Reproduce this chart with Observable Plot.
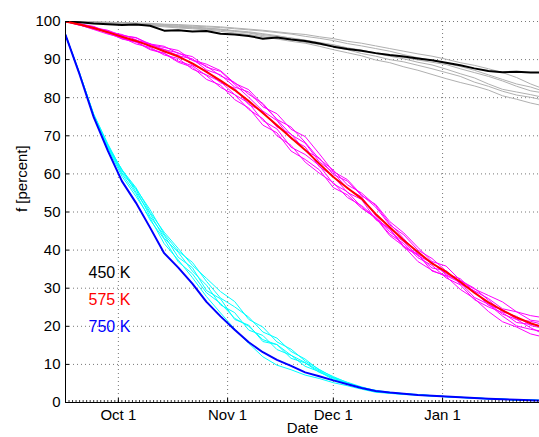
<!DOCTYPE html>
<html><head><meta charset="utf-8">
<script src="https://cdn.jsdelivr.net/npm/d3@7"></script>
<script src="https://cdn.jsdelivr.net/npm/@observablehq/plot@0.6"></script>
<style>body{margin:0;background:#fff;}</style>
</head><body><div id="chart"></div>
<script>
const dates = ["2006-09-16","2006-09-20","2006-09-24","2006-09-28","2006-10-02","2006-10-06","2006-10-10","2006-10-14","2006-10-18","2006-10-22","2006-10-26","2006-10-30","2006-11-03","2006-11-07","2006-11-11","2006-11-15","2006-11-19","2006-11-23","2006-11-27","2006-12-01","2006-12-05","2006-12-09","2006-12-13","2006-12-17","2006-12-21","2006-12-25","2006-12-29","2007-01-02","2007-01-06","2007-01-10","2007-01-14","2007-01-18","2007-01-22","2007-01-26","2007-01-30"];

const mean450 = [100,99.8,99.5,99.3,99.1,99.2,98.9,97.6,97.7,97.4,97.5,96.8,96.6,96.2,95.5,95.8,95.3,94.9,94.2,93.4,92.8,92.3,91.7,91.2,90.8,90.3,89.8,89.2,88.5,87.7,87.0,86.7,86.8,86.6,86.6];
const mean575 = [100,99.2,98.3,97.2,96.0,94.9,93.6,92.2,90.8,89.0,86.8,84.5,82.0,79.1,76.0,72.8,69.5,66.3,62.7,59.2,56.3,53.5,49.5,46.0,42.5,39.5,36.5,34.3,31.7,28.8,26.3,24.2,22.3,20.8,19.6];
const mean750 = [96.5,86.1,74.9,66.1,58.1,52.4,45.9,39.2,35.4,31.2,26.4,22.6,19.1,15.8,13.2,11.2,9.6,7.9,6.9,5.8,4.8,3.8,3.0,2.6,2.3,2.0,1.8,1.55,1.35,1.2,1.0,0.85,0.7,0.6,0.5];

const members450 = [
 [100,99.9,99.9,99.8,99.7,99.6,99.5,99.3,99.2,99.0,98.8,98.6,98.3,98.0,97.7,97.3,96.9,96.6,96.0,95.5,94.8,94.3,93.6,92.9,92.2,91.5,90.9,90.1,89.2,88.5,87.6,86.6,85.3,83.6,82.2],
 [100,99.8,99.7,99.5,99.3,99.1,98.9,98.6,98.3,98.1,97.8,97.4,97.0,96.6,96.0,95.4,94.8,94.3,93.5,92.6,91.8,91.0,89.9,89.2,88.1,87.2,86.1,85.0,84.0,83.1,82.0,80.5,79.6,78.6,77.8],
 [100,99.9,99.8,99.6,99.5,99.3,99.2,98.9,98.7,98.4,98.2,97.9,97.6,97.3,96.8,96.3,95.6,95.1,94.5,93.9,93.1,92.5,91.6,90.9,90.2,89.3,88.6,87.5,86.3,85.2,83.6,82.2,81.5,80.8,80.0],
 [100,99.9,99.8,99.7,99.6,99.4,99.2,99.0,98.8,98.6,98.3,98.0,97.5,97.1,96.6,96.1,95.7,95.1,94.4,93.8,93.0,92.4,91.8,91.1,90.6,89.9,89.3,88.7,87.6,86.6,85.6,84.4,83.0,81.8,81.2],
 [100,99.8,99.7,99.6,99.5,99.3,99.1,98.8,98.5,98.3,98.0,97.7,97.4,97.0,96.3,95.9,95.3,94.5,94.0,93.4,92.6,91.6,90.9,90.0,89.4,88.5,87.6,86.6,85.6,84.1,83.0,81.7,80.7,80.1,79.3],
 [100,99.9,99.9,99.8,99.7,99.5,99.4,99.2,99.0,98.8,98.6,98.4,98.1,97.8,97.5,97.1,96.7,96.1,95.6,95.0,94.2,93.6,92.9,92.2,91.3,90.5,89.8,89.0,88.2,87.2,86.0,84.8,83.6,82.8,81.6]
];
const members575 = [
 [100,99.3,98.1,97.5,96.2,94.6,94.1,92.6,91.8,89.8,88.3,85.7,84.0,80.9,78.5,74.3,72.3,68.3,63.9,61.0,57.1,55.0,51.7,47.0,43.0,39.0,36.8,33.5,31.9,29.8,28.1,26.4,23.8,22.8,22.2],
 [100,99.0,98.5,96.9,95.5,94.7,92.8,91.7,89.6,88.4,85.8,82.7,80.8,76.9,74.5,70.0,67.5,63.1,60.2,57.7,53.8,51.7,48.5,43.8,41.0,37.0,34.7,33.1,29.7,27.3,23.9,21.2,19.8,18.0,17.1],
 [100,99.4,98.7,97.3,96.6,95.2,93.4,92.7,91.0,90.2,87.3,86.0,82.8,81.5,77.6,75.8,71.7,69.8,65.3,60.6,58.5,54.5,51.3,46.6,44.0,40.0,37.8,34.5,31.2,29.3,25.5,24.4,21.8,21.3,20.4],
 [100,99.1,97.9,96.7,95.8,94.1,93.2,91.2,90.3,87.5,86.0,84.2,80.8,78.6,74.0,71.8,67.0,65.1,62.2,57.4,55.3,51.3,48.3,45.6,41.0,38.9,34.5,33.3,31.5,27.6,25.8,22.7,20.1,19.2,18.6],
 [100,99.2,98.6,97.0,96.4,95.7,93.9,93.2,92.4,89.9,88.8,87.1,83.8,82.1,78.2,74.3,70.3,68.1,63.2,60.4,56.1,54.0,49.0,44.8,42.2,38.5,36.7,33.8,32.5,29.0,26.0,23.2,21.8,19.6,17.8],
 [100,99.3,98.3,97.6,95.7,95.1,94.2,92.0,91.2,88.6,87.1,83.9,82.5,78.2,76.4,72.3,70.5,66.1,64.2,59.8,58.1,54.3,52.0,47.5,44.5,40.7,37.0,35.8,32.1,30.0,26.9,23.8,22.6,20.2,19.4],
 [100,99.1,98.0,97.3,95.4,94.6,92.6,91.6,89.3,88.0,84.8,83.3,79.5,77.3,72.8,70.8,66.0,63.8,61.1,56.4,54.5,51.0,48.5,44.2,41.7,38.0,36.0,32.7,30.9,27.0,25.1,23.6,21.0,20.5,20.1],
 [100,99.4,98.4,97.7,96.3,95.8,94.1,93.5,91.6,90.8,88.0,86.9,83.5,80.1,76.5,74.0,69.2,67.1,61.9,59.4,55.1,53.3,48.0,45.5,40.7,38.7,35.3,34.6,31.1,29.3,27.3,24.6,23.8,21.6,21.1]
];
const members750 = [
 [96.5,86.3,75.6,67.6,61.1,56.4,49.9,44.7,40.4,36.0,32.6,29.1,26.5,21.8,19.8,15.9,14.0,10.9,8.7,6.6,5.3,4.1,3.1,2.6,2.3,2.0,1.7,1.5,1.3,1.1,0.9,0.8,0.7,0.6,0.5],
 [96.5,86.3,75.2,66.8,59.4,54.1,48.4,41.7,37.4,32.8,27.8,23.5,19.3,15.5,12.0,9.8,8.6,7.2,6.3,5.2,4.4,3.5,2.7,2.4,2.1,1.9,1.7,1.55,1.35,1.2,1.0,0.85,0.7,0.6,0.5],
 [96.5,86.4,75.7,67.9,60.8,56.1,50.6,44.2,39.7,36.8,31.8,27.4,25.1,22.4,18.5,16.9,13.4,11.4,8.5,6.8,5.2,3.9,3.2,2.7,2.3,2.1,1.8,1.55,1.35,1.2,1.0,0.85,0.7,0.6,0.5],
 [96.5,86.2,75.4,67.0,61.2,55.2,49.6,43.1,39.4,34.5,30.8,25.6,23.6,19.0,17.6,13.9,12.4,9.5,8.1,6.0,5.1,3.9,2.9,2.6,2.3,2.0,1.8,1.55,1.35,1.2,1.0,0.85,0.7,0.6,0.5],
 [96.5,86.4,75.3,67.5,60.3,55.9,48.8,43.9,38.1,35.4,29.4,27.2,21.8,20.3,16.0,15.2,11.6,10.4,7.9,6.5,4.9,4.0,3.0,2.5,2.3,2.0,1.8,1.55,1.35,1.2,1.0,0.85,0.7,0.6,0.5],
 [96.5,86.3,75.5,67.1,60.0,54.8,47.9,42.9,36.9,33.8,28.8,26.0,22.1,20.0,16.5,15.2,12.4,10.5,8.3,6.3,5.0,3.8,2.8,2.5,2.2,2.0,1.8,1.55,1.35,1.2,1.0,0.85,0.7,0.6,0.5]
];

const legendLabels = ["450 K", "575 K", "750 K"];
const legendColors = ["#000000", "#ff0000", "#0000ff"];
const yTicks = [0,10,20,30,40,50,60,70,80,90,100];
const xStart = "2006-09-16", xEnd = "2007-01-28T12:00";

const parse = s => new Date(s + (s.length === 10 ? "T00:00Z" : "Z"));
const dts = dates.map(parse);
const toRows = (vals, series) => vals.map((v, i) => ({date: dts[i], value: v, series}));
const rows450 = members450.flatMap((v, k) => toRows(v, "g" + k));
const rows575 = members575.flatMap((v, k) => toRows(v, "m" + k));
const rows750 = members750.flatMap((v, k) => toRows(v, "c" + k));
const xDomain = [parse(xStart), parse(xEnd)];
const monthTicks = d3.utcMonth.range(d3.utcMonth.ceil(xDomain[0]), xDomain[1]);
const dayTicks = d3.utcDay.range(d3.utcDay.ceil(xDomain[0]), xDomain[1]);

const W = 539, H = 437, mL = 65, mR = 0, mT = 21, mB = 35;
const fw = W - mL - mR, fh = H - mT - mB;
const font = "'Liberation Sans', Arial, Helvetica, sans-serif";

const chart = Plot.plot({
  width: W, height: H, marginLeft: mL, marginRight: mR, marginTop: mT, marginBottom: mB,
  style: {fontFamily: font, fontSize: "15px", color: "#000", background: "#fff", overflow: "visible"},
  x: {type: "utc", domain: xDomain},
  y: {domain: [0, 100]},
  marks: [
    Plot.gridY({ticks: yTicks, stroke: "#777", strokeOpacity: 1, strokeDasharray: "1,3"}),
    Plot.gridX({ticks: monthTicks, stroke: "#777", strokeOpacity: 1, strokeDasharray: "1,3"}),
    Plot.axisY({ticks: yTicks, tickSize: 0, tickPadding: 5, label: null, tickFormat: d => String(d), fontSize: 15}),
    Plot.axisX({ticks: monthTicks, tickSize: 0, tickPadding: 7, label: null, tickFormat: d3.utcFormat("%b %-d"), fontSize: 15}),
    Plot.line(rows450, {x: "date", y: "value", z: "series", stroke: "#b0b0b0", strokeWidth: 1, clip: true}),
    Plot.line(rows575, {x: "date", y: "value", z: "series", stroke: "#ff00ff", strokeWidth: 1, clip: true}),
    Plot.line(rows750, {x: "date", y: "value", z: "series", stroke: "#00ffff", strokeWidth: 1, clip: true}),
    Plot.line(toRows(mean450, "b"), {x: "date", y: "value", stroke: "#000000", strokeWidth: 2, clip: true}),
    Plot.line(toRows(mean575, "r"), {x: "date", y: "value", stroke: "#ff0000", strokeWidth: 2, clip: true}),
    Plot.line(toRows(mean750, "u"), {x: "date", y: "value", stroke: "#0000ff", strokeWidth: 2, clip: true}),
    Plot.ruleY([0], {stroke: "#000"}),
    Plot.ruleX([xDomain[0]], {stroke: "#000"}),
    Plot.tickX(dayTicks, {x: d => d, insetTop: fh - 2, stroke: "#000", strokeOpacity: 0.8}),
    Plot.tickX(monthTicks, {x: d => d, insetTop: fh - 4, stroke: "#000"}),
    Plot.tickY(yTicks, {y: d => d, insetRight: fw - 4, stroke: "#000"}),
    Plot.text(["Date"], {text: d => d, frameAnchor: "bottom", lineAnchor: "middle", dy: 26, fontSize: 15, fill: "#000"}),
    Plot.text(["f [percent]"], {text: d => d, frameAnchor: "left", lineAnchor: "middle", dx: -43, rotate: -90, fontSize: 15, fill: "#000"}),
    ...legendLabels.map((lab, i) => Plot.text([lab], {text: d => d, frameAnchor: "top-left", lineAnchor: "middle", dx: 23, dy: 251 + 27 * i, textAnchor: "start", fontSize: 16, fill: legendColors[i]}))
  ]
});
document.getElementById("chart").appendChild(chart);
</script>
</body></html>
